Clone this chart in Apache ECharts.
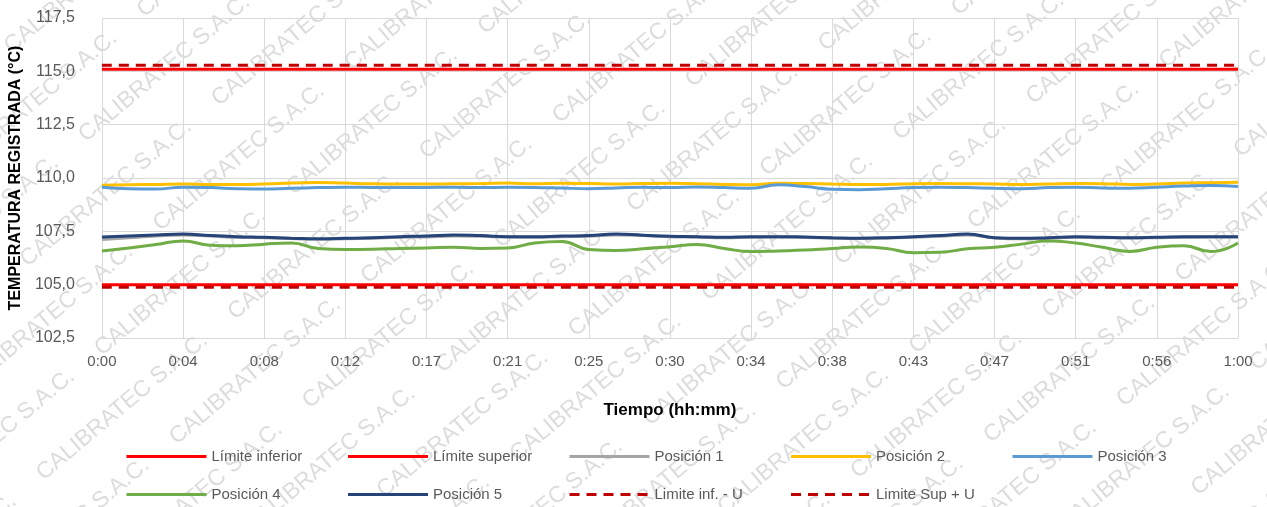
<!DOCTYPE html>
<html lang="es">
<head>
  <meta charset="UTF-8">
  <title>Temperatura registrada</title>
  <script src="https://cdn.jsdelivr.net/npm/echarts@6/dist/echarts.min.js"></script>
  <style>
    html, body { margin: 0; padding: 0; background: #fff; }
  </style>
</head>
<body>
  <div id="app" style="width: 1267px; height: 507px;"></div>
  <script>
    // tiempo (hh:mm), etiqueta cada 3 lecturas
    var tiempos = ['0:00','0:01','0:03','0:04','0:05','0:07','0:08','0:10','0:11','0:12','0:14','0:15','0:17','0:18','0:20','0:21','0:22','0:24','0:25','0:27','0:28','0:30','0:31','0:32','0:34','0:35','0:37','0:38','0:40','0:41','0:43','0:44','0:45','0:47','0:48','0:50','0:51','0:52','0:54','0:56','0:57','0:58','1:00']

    // limites (solo extremos)
    var limInferior = [['0:00', 105.0], ['1:00', 105.0]]
    var limSuperior = [['0:00', 115.1], ['1:00', 115.1]]
    var limInfU = [['0:00', 104.88], ['1:00', 104.88]]
    var limSupU = [['0:00', 115.28], ['1:00', 115.28]]

    var pos1 = [107.12,107.2,107.28,107.33,107.28,107.22,107.2,107.16,107.13,107.15,107.18,107.22,107.24,107.28,107.27,107.23,107.22,107.25,107.27,107.33,107.3,107.25,107.23,107.2,107.22,107.23,107.21,107.18,107.16,107.18,107.22,107.27,107.33,107.19,107.15,107.18,107.22,107.2,107.19,107.2,107.22,107.23,107.23]
    var pos2 = [109.66,109.68,109.7,109.72,109.7,109.7,109.72,109.76,109.79,109.76,109.73,109.72,109.72,109.73,109.74,109.76,109.73,109.75,109.74,109.72,109.74,109.75,109.73,109.7,109.68,109.75,109.74,109.72,109.7,109.7,109.73,109.74,109.73,109.72,109.7,109.72,109.74,109.73,109.7,109.72,109.76,109.78,109.8]
    var pos3 = [109.57,109.5,109.48,109.57,109.55,109.5,109.48,109.52,109.55,109.57,109.56,109.55,109.56,109.57,109.55,109.57,109.56,109.53,109.5,109.53,109.57,109.55,109.58,109.55,109.52,109.68,109.6,109.47,109.45,109.5,109.55,109.57,109.55,109.52,109.5,109.55,109.57,109.53,109.52,109.57,109.62,109.65,109.6]
    var pos4 = [106.58,106.72,106.88,107.05,106.85,106.82,106.9,106.95,106.7,106.65,106.66,106.7,106.72,106.75,106.7,106.72,106.95,107.02,106.65,106.6,106.68,106.78,106.88,106.7,106.55,106.58,106.62,106.7,106.76,106.7,106.5,106.52,106.68,106.75,106.9,107.05,106.95,106.75,106.56,106.75,106.82,106.55,106.95]
    var pos5 = [107.23,107.28,107.33,107.37,107.3,107.25,107.22,107.18,107.15,107.17,107.2,107.25,107.28,107.33,107.3,107.25,107.25,107.28,107.3,107.37,107.32,107.27,107.25,107.22,107.25,107.25,107.23,107.2,107.18,107.2,107.25,107.3,107.37,107.2,107.17,107.2,107.25,107.22,107.2,107.22,107.25,107.25,107.25]

    var yMin = 102.5, yMax = 117.5, yStep = 2.5

    var fuente = '"Liberation Sans", Arial, sans-serif'

    var app = document.querySelector('#app')
    var mCharts = echarts.init(app)

    // marca de agua repetida en diagonal
    var ang = 40 * Math.PI / 180
    var dx = Math.cos(ang), dy = -Math.sin(ang)
    var paso = 250, sep = 58
    var ax = paso * dx, ay = paso * dy
    var bx = sep * Math.sin(ang) + paso / 2 * dx, by = sep * Math.cos(ang) + paso / 2 * dy
    var marcas = []
    for (var i = -12; i < 12; i++) {
      for (var j = -12; j < 24; j++) {
        var px = i * ax + j * bx
        var py = 40 + i * ay + j * by
        if (px < -300 || px > 1300 || py < -20 || py > 720) continue
        marcas.push({
          type: 'text',
          x: px,
          y: py,
          rotation: ang,
          silent: true,
          z: 0,
          style: {
            text: 'CALIBRATEC S.A.C.',
            fill: 'rgba(140,140,140,0.3)',
            font: '23px ' + fuente
          }
        })
      }
    }

    function linea(nombre, datos, color, tipo) {
      return {
        name: nombre,
        type: 'line',
        data: datos,
        smooth: true,
        symbol: 'none',
        lineStyle: { color: color, width: 3, type: tipo || 'solid' },
        itemStyle: { color: color },
        z: 3
      }
    }

    var option = {
      backgroundColor: '#fff',
      animation: false,
      graphic: { elements: marcas },
      grid: { left: 97, right: 29, top: 18, height: 320 },
      legend: {
        left: 120,
        top: 435,
        width: 1130,
        itemWidth: 80,
        itemHeight: 14,
        itemGap: 5,
        itemStyle: { color: 'transparent', borderWidth: 0, opacity: 0 },
        lineStyle: { width: 3 },
        textStyle: {
          fontFamily: fuente,
          fontSize: 15,
          color: '#595959',
          width: 130,
          height: 33,
          lineHeight: 33
        },
        data: ['Límite inferior', 'Límite superior', 'Posición 1', 'Posición 2', 'Posición 3',
               'Posición 4', 'Posición 5', 'Limite inf. - U', 'Limite Sup + U']
      },
      xAxis: {
        type: 'category',
        data: tiempos,
        boundaryGap: false,
        name: 'Tiempo (hh:mm)',
        nameLocation: 'middle',
        nameGap: 64,
        nameTextStyle: { fontFamily: fuente, fontSize: 17, fontWeight: 'bold', color: '#000' },
        axisLine: { lineStyle: { color: '#d9d9d9' } },
        axisTick: { show: false },
        axisLabel: { interval: 2, margin: 16, fontFamily: fuente, fontSize: 15, color: '#595959' },
        splitLine: { show: true, interval: 2, lineStyle: { color: '#d9d9d9', width: 1 } }
      },
      yAxis: {
        type: 'value',
        min: yMin,
        max: yMax,
        interval: yStep,
        name: 'TEMPERATURA REGISTRADA (°C)',
        nameLocation: 'middle',
        nameGap: 75,
        nameTextStyle: { fontFamily: fuente, fontSize: 16, fontWeight: 'bold', color: '#000' },
        axisLine: { show: false },
        axisTick: { show: false },
        axisLabel: {
          margin: 27,
          fontFamily: fuente,
          fontSize: 16,
          color: '#595959',
          formatter: function (v) { return v.toFixed(1).replace('.', ',') }
        },
        splitLine: { lineStyle: { color: '#d9d9d9', width: 1 } }
      },
      series: [
        linea('Límite inferior', limInferior, '#FF0000'),
        linea('Límite superior', limSuperior, '#FF0000'),
        linea('Posición 1', pos1, '#A5A5A5'),
        linea('Posición 2', pos2, '#FFC000'),
        linea('Posición 3', pos3, '#5B9BD5'),
        linea('Posición 4', pos4, '#70AD47'),
        linea('Posición 5', pos5, '#264478'),
        linea('Limite inf. - U', limInfU, '#C00000', [10, 7]),
        linea('Limite Sup + U', limSupU, '#C00000', [10, 7])
      ]
    }
    mCharts.setOption(option)
  </script>
</body>
</html>
